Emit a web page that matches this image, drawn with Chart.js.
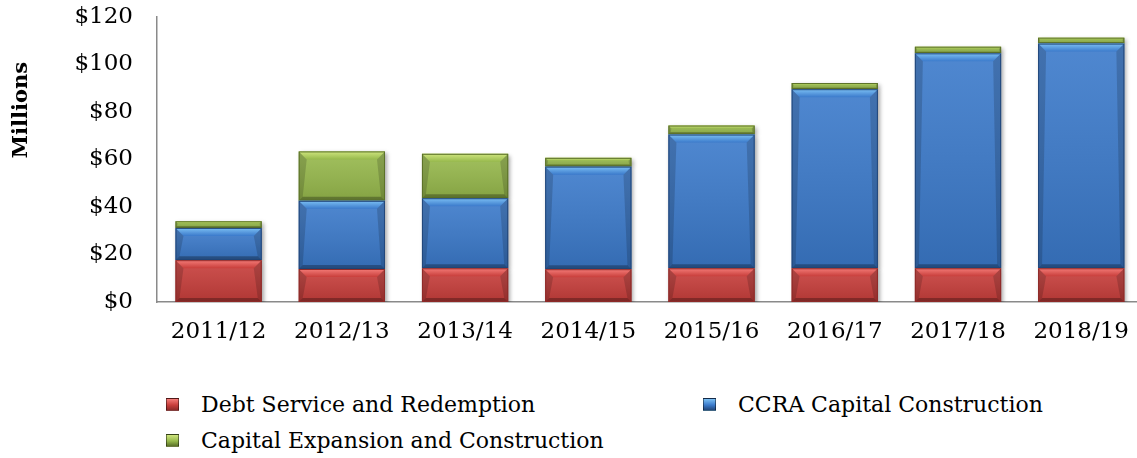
<!DOCTYPE html>
<html>
<head>
<meta charset="utf-8">
<script src="https://cdn.jsdelivr.net/npm/chart.js@4.4.1/dist/chart.umd.min.js"></script>
<style>
  html, body { margin: 0; padding: 0; background: #fff; }
  #wrap { position: relative; width: 1137px; height: 458px; overflow: hidden; }
  #chart { position: absolute; left: 0; top: 0; }
  #legend {
    position: absolute; left: 166px; top: 390px;
    display: grid; grid-template-columns: 537px 400px; row-gap: 8px;
    font-family: "DejaVu Serif", serif; font-size: 22px; color: #000;
  }
  .item { display: flex; align-items: center; height: 28px; white-space: nowrap; }
  .box { width: 11px; height: 11px; margin-right: 22px; border: 1px solid rgba(0,0,0,0.45); }
</style>
</head>
<body>
<div id="wrap">
  <canvas id="chart" width="1145" height="362"></canvas>
  <div id="legend"></div>
</div>
<script>
// 数据
const years = ["2011/12", "2012/13", "2013/14", "2014/15", "2015/16", "2016/17", "2017/18", "2018/19"];
const debtService = [17.6, 13.9, 14.2, 13.8, 14.2, 14.2, 14.2, 14.2];
const ccraConstruction = [13.6, 28.7, 29.5, 43.2, 56.3, 75.4, 90.5, 94.6];
const capitalExpansion = [2.8, 20.8, 18.7, 3.7, 3.8, 2.6, 2.8, 2.5];
const yTicks = [0, 20, 40, 60, 80, 100, 120];

const palette = {
  red: { mid: "#c83e3b", light: "#f47c78", dark: "#8e2a28" },
  blue: { mid: "#3b7acb", light: "#7cc0f4", dark: "#22477a" },
  green: { mid: "#97b94c", light: "#cfe57e", dark: "#5b7128" },
};

const serif = "'DejaVu Serif', serif";

// 斜面效果
const bevelPlugin = {
  id: "bevel",
  beforeDatasetDraw(chart) {
    const ctx = chart.ctx;
    ctx.save();
    ctx.shadowColor = "rgba(0,0,0,0.35)";
    ctx.shadowBlur = 4;
    ctx.shadowOffsetX = 2;
    ctx.shadowOffsetY = 2;
  },
  afterDatasetDraw(chart, args) {
    const ctx = chart.ctx;
    ctx.restore();
    const ds = chart.data.datasets[args.index];
    const c = ds.bevel;
    args.meta.data.forEach((bar) => {
      const { x, y, base, width } = bar.getProps(["x", "y", "base", "width"], true);
      const l = x - width / 2, r = x + width / 2, t = Math.min(y, base), b = Math.max(y, base);
      const h = b - t;
      if (h < 1) return;
      const d = Math.min(8, h / 3);
      ctx.save();
      // 竖向渐变
      const g = ctx.createLinearGradient(0, t, 0, b);
      g.addColorStop(0, "rgba(255,255,255,0.10)");
      g.addColorStop(1, "rgba(0,0,0,0.12)");
      ctx.fillStyle = g;
      ctx.fillRect(l, t, width, h);
      // 顶部亮边
      const tg = ctx.createLinearGradient(0, t, 0, t + d);
      tg.addColorStop(0, c.light);
      tg.addColorStop(1, c.mid);
      ctx.fillStyle = tg;
      ctx.beginPath();
      ctx.moveTo(l, t); ctx.lineTo(r, t); ctx.lineTo(r - d, t + d); ctx.lineTo(l + d, t + d); ctx.closePath();
      ctx.fill();
      // 底部暗边
      const bd = Math.min(4, h / 4);
      ctx.fillStyle = "rgba(0,0,0,0.28)";
      ctx.beginPath();
      ctx.moveTo(l, b); ctx.lineTo(r, b); ctx.lineTo(r - bd, b - bd); ctx.lineTo(l + bd, b - bd); ctx.closePath();
      ctx.fill();
      // 侧边
      ctx.fillStyle = "rgba(0,0,0,0.16)";
      ctx.beginPath();
      ctx.moveTo(l, t); ctx.lineTo(l + d, t + d); ctx.lineTo(l + bd, b - bd); ctx.lineTo(l, b); ctx.closePath();
      ctx.fill();
      ctx.beginPath();
      ctx.moveTo(r, t); ctx.lineTo(r - d, t + d); ctx.lineTo(r - bd, b - bd); ctx.lineTo(r, b); ctx.closePath();
      ctx.fill();
      ctx.strokeStyle = c.dark;
      ctx.lineWidth = 1;
      ctx.strokeRect(l + 0.5, t + 0.5, width - 1, h - 1);
      ctx.restore();
    });
  },
};

// 纵轴标题
const axisTitlePlugin = {
  id: "axisTitle",
  afterDraw(chart) {
    const ctx = chart.ctx;
    ctx.save();
    ctx.translate(22, 110);
    ctx.rotate(-Math.PI / 2);
    ctx.font = "bold 21px " + serif;
    ctx.fillStyle = "#000";
    ctx.textAlign = "center";
    ctx.textBaseline = "middle";
    ctx.fillText("Millions", 0, 0);
    ctx.restore();
  },
};

const makeSet = (label, values, c) => ({
  label,
  data: values,
  backgroundColor: c.mid,
  borderWidth: 0,
  bevel: c,
});

const chart = new Chart(document.getElementById("chart"), {
  type: "bar",
  data: {
    labels: years,
    datasets: [
      makeSet("Debt Service and Redemption", debtService, palette.red),
      makeSet("CCRA Capital Construction", ccraConstruction, palette.blue),
      makeSet("Capital Expansion and Construction", capitalExpansion, palette.green),
    ],
  },
  options: {
    responsive: false,
    animation: false,
    layout: { padding: { top: 17, right: 0, left: 0, bottom: 0 } },
    datasets: { bar: { barPercentage: 0.7, categoryPercentage: 1 } },
    plugins: { legend: { display: false }, tooltip: { enabled: false } },
    scales: {
      x: {
        stacked: true,
        grid: { display: false, drawTicks: false },
        border: { display: true, color: "#8a8a8a", width: 1.5 },
        ticks: { color: "#000", font: { family: serif, size: 23 }, padding: 16, maxRotation: 0 },
        afterFit(scale) { scale.height = 60; },
      },
      y: {
        stacked: true,
        min: 0,
        max: 120,
        grid: { display: false, drawTicks: false },
        border: { display: true, color: "#8a8a8a", width: 1.5 },
        afterBuildTicks(scale) { scale.ticks = yTicks.map((v) => ({ value: v })); },
        ticks: {
          color: "#000",
          font: { family: serif, size: 23 },
          padding: 24,
          callback: (v) => "$" + v,
        },
        afterFit(scale) {
          scale.width = 157;
          scale.paddingTop = 0;
          scale.paddingBottom = 0;
        },
      },
    },
  },
  plugins: [bevelPlugin, axisTitlePlugin],
});

// 图例
const legend = document.getElementById("legend");
[0, 1, 2].forEach((i) => {
  const ds = chart.data.datasets[i];
  const item = document.createElement("div");
  item.className = "item";
  const box = document.createElement("span");
  box.className = "box";
  box.style.background = `linear-gradient(${ds.bevel.light}, ${ds.bevel.mid} 55%, ${ds.bevel.dark})`;
  item.appendChild(box);
  item.appendChild(document.createTextNode(ds.label));
  legend.appendChild(item);
});
</script>
</body>
</html>
